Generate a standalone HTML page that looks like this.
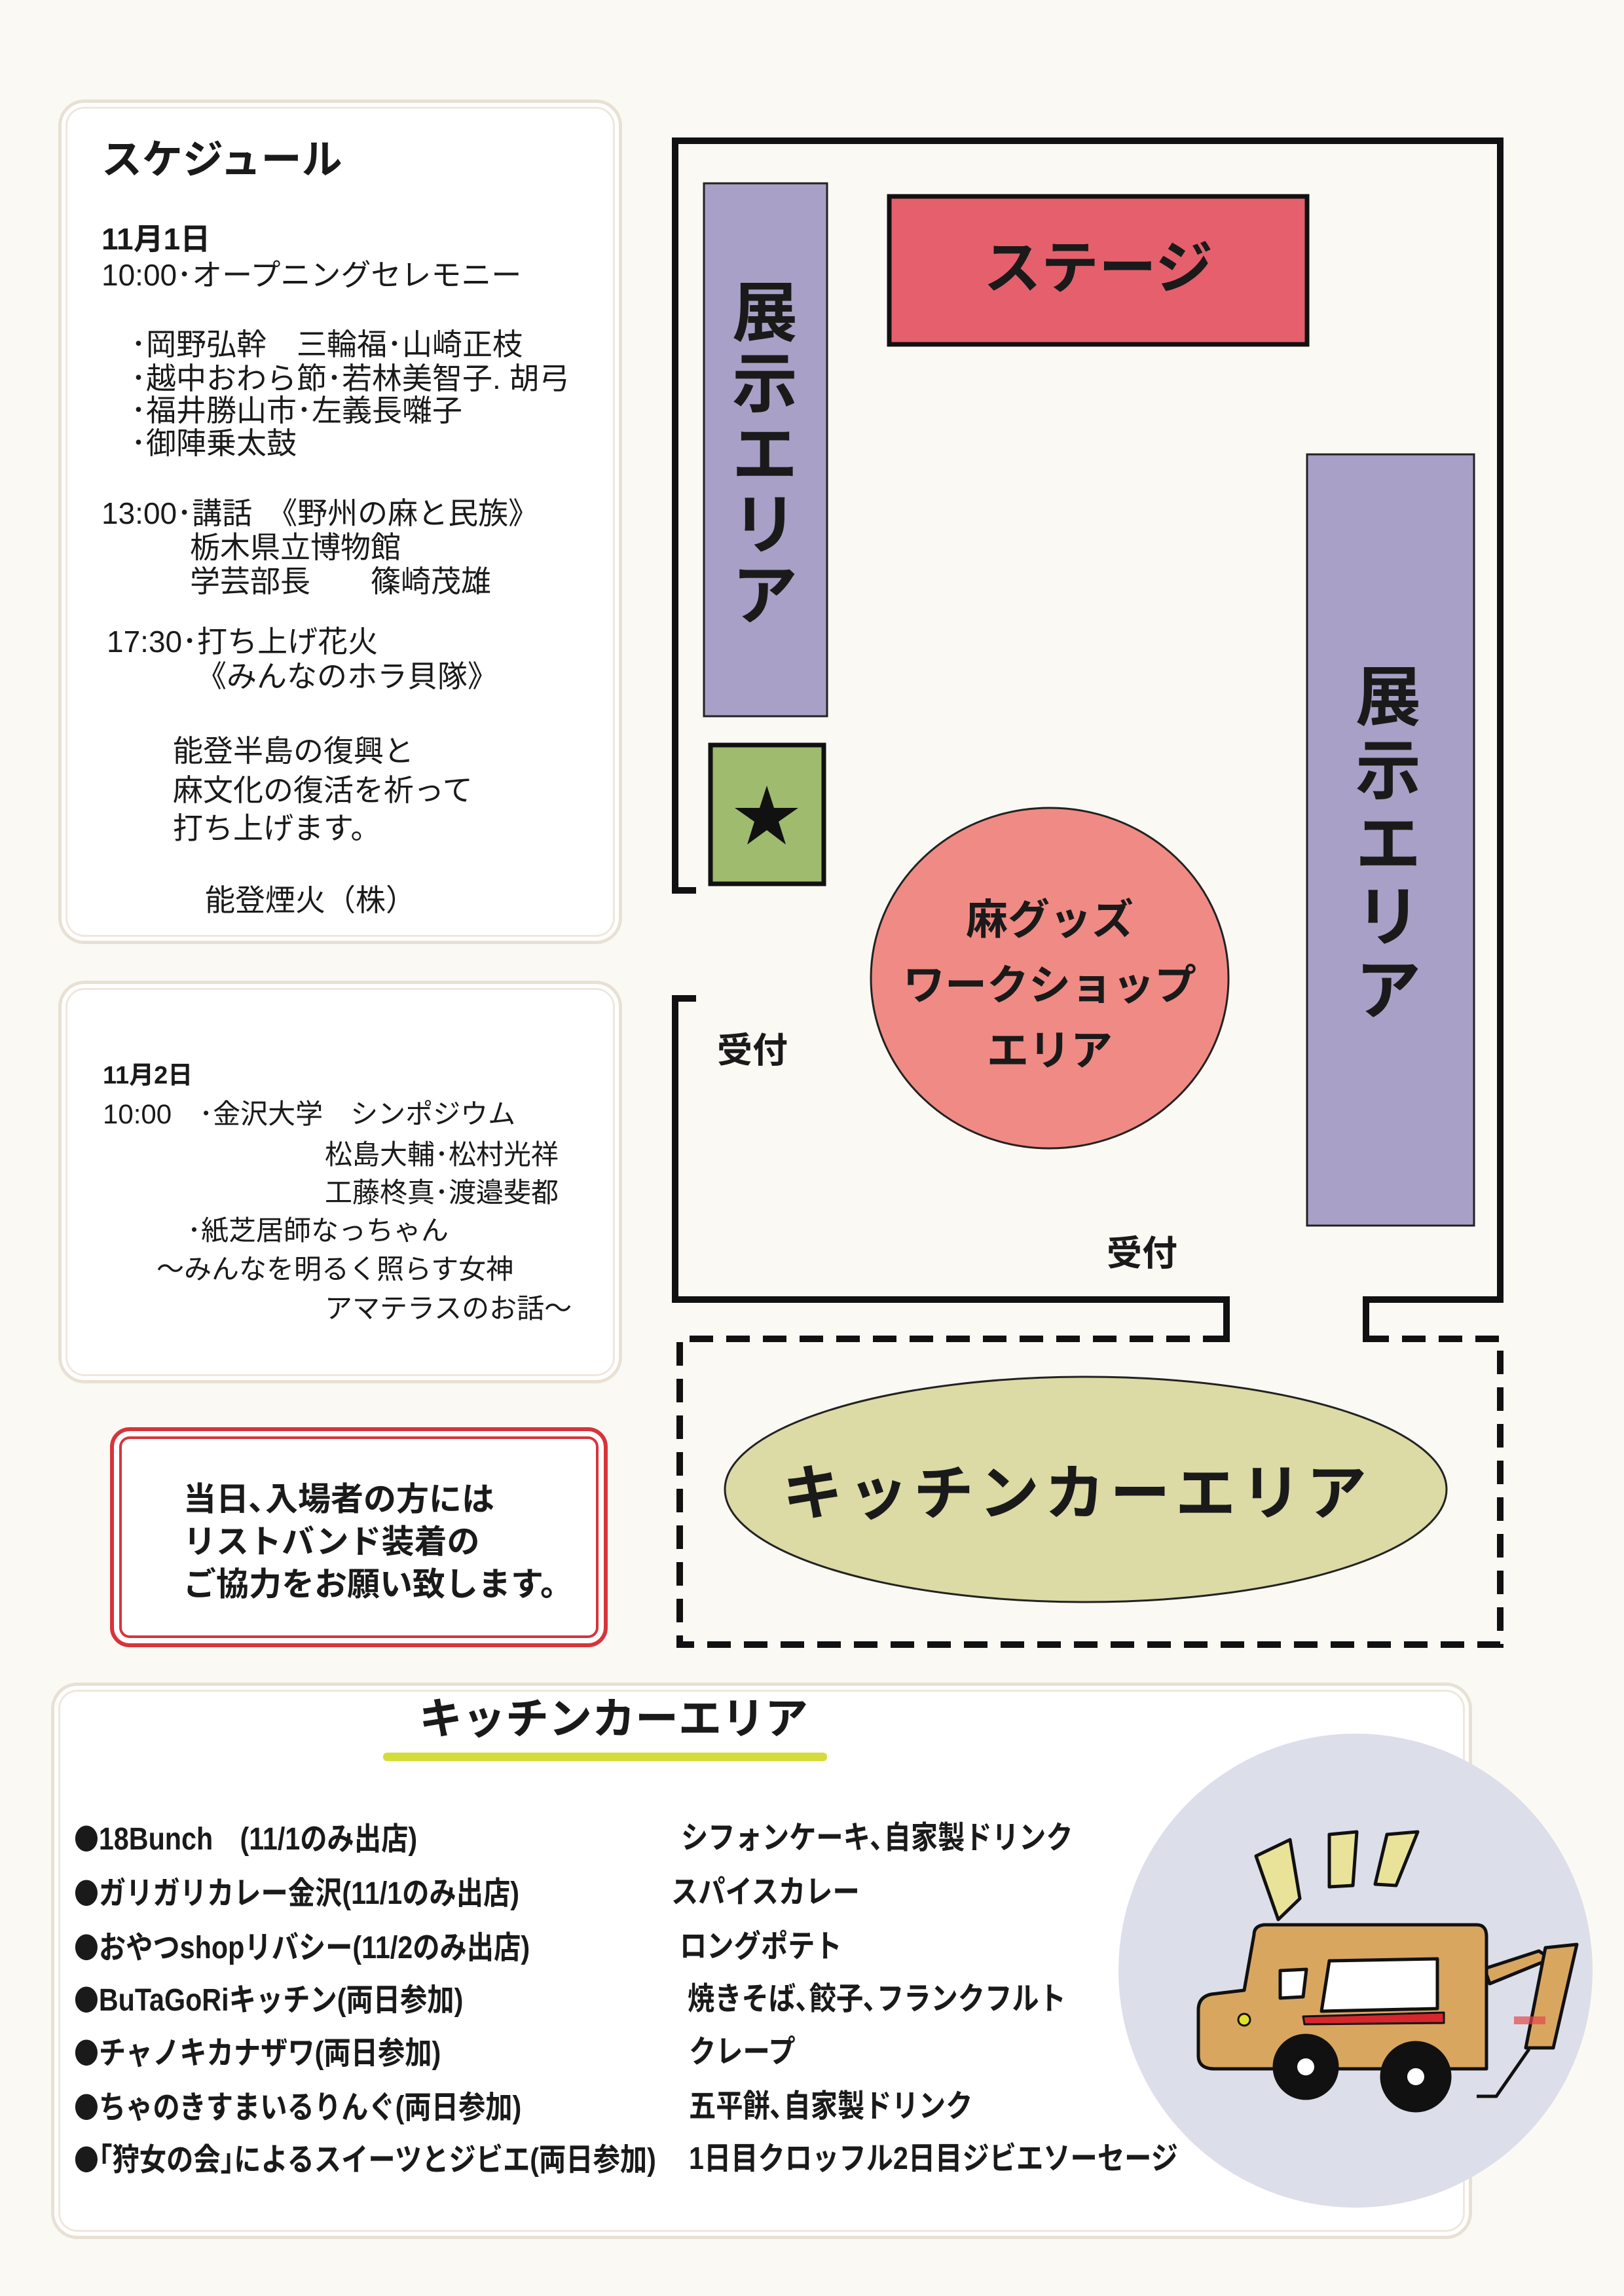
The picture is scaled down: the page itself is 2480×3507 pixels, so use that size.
<!DOCTYPE html>
<html><head><meta charset="utf-8"><style>
*{margin:0;padding:0;box-sizing:border-box}
body{width:2480px;height:3507px;background:#faf9f4;position:relative;overflow:hidden;font-family:"Liberation Sans","Noto Sans CJK JP",sans-serif;color:#1a1a1a}
.a{position:absolute;white-space:nowrap}
.box{position:absolute;background:#fff;border:5px solid #e9e0d4;border-radius:40px;box-shadow:inset 0 0 0 6px #fff,inset 0 0 0 9px #efe7dc}
.t{position:absolute;white-space:nowrap;font-size:46px;line-height:1}
.u{position:absolute;white-space:nowrap;font-size:42px;line-height:1}
.l{position:absolute;white-space:nowrap;font-size:48px;font-weight:bold;line-height:1;transform:scaleX(.86);transform-origin:left center}
.b{font-family:"Noto Sans CJK JP",sans-serif;font-size:44px}
</style></head><body>

<div class="box" style="left:89px;top:152px;width:861px;height:1290px"></div>
<div class="a" style="left:155px;top:214px;font-size:62px;font-weight:bold;line-height:1">スケジュール</div>
<div class="t" style="left:155px;top:342px;font-weight:bold">11月1日</div>
<div class="t" style="left:155px;top:397px">10:00･オープニングセレモニー</div>
<div class="t" style="left:200px;top:503px">･岡野弘幹　三輪福･山崎正枝</div>
<div class="t" style="left:200px;top:555px">･越中おわら節･若林美智子. 胡弓</div>
<div class="t" style="left:200px;top:604px">･福井勝山市･左義長囃子</div>
<div class="t" style="left:200px;top:654px">･御陣乗太鼓</div>
<div class="t" style="left:155px;top:761px">13:00･講話　《野州の麻と民族》</div>
<div class="t" style="left:290px;top:813px">栃木県立博物館</div>
<div class="t" style="left:290px;top:865px">学芸部長　　篠崎茂雄</div>
<div class="t" style="left:163px;top:957px">17:30･打ち上げ花火</div>
<div class="t" style="left:300px;top:1010px">《みんなのホラ貝隊》</div>
<div class="t" style="left:264px;top:1124px">能登半島の復興と</div>
<div class="t" style="left:264px;top:1184px">麻文化の復活を祈って</div>
<div class="t" style="left:264px;top:1242px">打ち上げます。</div>
<div class="t" style="left:313px;top:1352px">能登煙火（株）</div>

<div class="box" style="left:89px;top:1498px;width:861px;height:615px"></div>
<div class="u" style="left:157px;top:1624px;font-size:38px;font-weight:bold">11月2日</div>
<div class="u" style="left:157px;top:1681px">10:00　･金沢大学　シンポジウム</div>
<div class="u" style="left:496px;top:1743px">松島大輔･松村光祥</div>
<div class="u" style="left:496px;top:1801px">工藤柊真･渡邉斐都</div>
<div class="u" style="left:286px;top:1859px">･紙芝居師なっちゃん</div>
<div class="u" style="left:239px;top:1918px">～みんなを明るく照らす女神</div>
<div class="u" style="left:496px;top:1978px">アマテラスのお話～</div>

<div class="a" style="left:168px;top:2180px;width:760px;height:336px;border:6px solid #d8333c;border-radius:30px;background:#fff;box-shadow:inset 0 0 0 8px #fff,inset 0 0 0 12px #d8333c"></div>
<div class="a" style="left:280px;top:2258px;font-size:50px;font-weight:bold;line-height:65px">当日､入場者の方には<br>リストバンド装着の<br>ご協力をお願い致します。</div>

<!-- map -->
<svg class="a" style="left:0;top:0" width="2480" height="2600">
<g fill="none" stroke="#111" stroke-width="10" stroke-linecap="square">
<polyline points="1058,1360 1031,1360 1031,215 2291,215 2291,1985 2086,1985 2086,2045"/>
<polyline points="1058,1525 1031,1525 1031,1985 1873,1985 1873,2045"/>
<polyline points="1873,2045 1038,2045 1038,2512 2291,2512 2291,2045 2086,2045" stroke-dasharray="36,20" stroke-linecap="butt"/>
</g>
<rect x="1075" y="280" width="188" height="814" fill="#a8a0c6" stroke="#222" stroke-width="3"/>
<rect x="1085" y="1138" width="173" height="212" fill="#9fbb6e" stroke="#111" stroke-width="7"/>
<polygon points="1171,1200 1182,1234 1219,1234 1189,1255 1200,1290 1171,1268 1141,1290 1152,1255 1122,1234 1160,1234" fill="#111"/>
<rect x="1358" y="300" width="638" height="226" fill="#e5606c" stroke="#111" stroke-width="7"/>
<rect x="1996" y="694" width="255" height="1178" fill="#a8a0c6" stroke="#222" stroke-width="3"/>
<ellipse cx="1603" cy="1494" rx="273" ry="260" fill="#f08a84" stroke="#222" stroke-width="3"/>
<ellipse cx="1658" cy="2275" rx="551" ry="172" fill="#dcdaa5" stroke="#222" stroke-width="3"/>
</svg>
<div class="a" style="left:1677px;top:410px;transform:translate(-50%,-50%);font-size:88px;font-weight:bold;line-height:1">ステージ</div>
<div class="a" style="left:1118px;top:425px;width:100px;font-size:100px;font-weight:bold;line-height:108px;white-space:normal;text-align:center">展示エリア</div>
<div class="a" style="left:2070px;top:1010px;width:100px;font-size:100px;font-weight:bold;line-height:112px;white-space:normal;text-align:center">展示エリア</div>
<div class="a" style="left:1603px;top:1505px;transform:translate(-50%,-50%);font-size:64px;font-weight:bold;line-height:100px;text-align:center">麻グッズ<br>ワークショップ<br>エリア</div>
<div class="a" style="left:1095px;top:1578px;font-size:54px;font-weight:bold;line-height:1">受付</div>
<div class="a" style="left:1690px;top:1888px;font-size:54px;font-weight:bold;line-height:1">受付</div>
<div class="a" style="left:1645px;top:2282px;transform:translate(-50%,-50%);font-size:92px;font-weight:bold;letter-spacing:8px;line-height:1">キッチンカーエリア</div>

<!-- bottom -->
<div class="box" style="left:78px;top:2570px;width:2170px;height:850px"></div>
<div class="a" style="left:640px;top:2592px;font-size:66px;font-weight:bold;line-height:1">キッチンカーエリア</div>
<div class="a" style="left:585px;top:2677px;width:678px;height:13px;background:#d4dc3c;border-radius:6px"></div>

<div class="l" style="left:113px;top:2784px"><span class="b">●</span>18Bunch　(11/1のみ出店)</div>
<div class="l" style="left:113px;top:2867px"><span class="b">●</span>ガリガリカレー金沢(11/1のみ出店)</div>
<div class="l" style="left:113px;top:2950px"><span class="b">●</span>おやつshopリバシー(11/2のみ出店)</div>
<div class="l" style="left:113px;top:3030px"><span class="b">●</span>BuTaGoRiキッチン(両日参加)</div>
<div class="l" style="left:113px;top:3111px"><span class="b">●</span>チャノキカナザワ(両日参加)</div>
<div class="l" style="left:113px;top:3194px"><span class="b">●</span>ちゃのきすまいるりんぐ(両日参加)</div>
<div class="l" style="left:113px;top:3274px"><span class="b">●</span>｢狩女の会｣によるスイーツとジビエ(両日参加)</div>
<div class="l" style="left:1040px;top:2784px">シフォンケーキ､自家製ドリンク</div>
<div class="l" style="left:1025px;top:2867px">スパイスカレー</div>
<div class="l" style="left:1038px;top:2950px">ロングポテト</div>
<div class="l" style="left:1050px;top:3030px">焼きそば､餃子､フランクフルト</div>
<div class="l" style="left:1052px;top:3111px">クレープ</div>
<div class="l" style="left:1052px;top:3194px">五平餅､自家製ドリンク</div>
<div class="l" style="left:1052px;top:3274px">1日目クロッフル2日目ジビエソーセージ</div>

<svg class="a" style="left:1700px;top:2640px" width="760" height="760">
<circle cx="370" cy="370" r="362" fill="#dcdee9"/>
<g stroke="#111" stroke-width="5" stroke-linejoin="round">
<polygon points="218,195 270,170 285,260 252,292" fill="#e9e39a"/>
<polygon points="330,162 372,158 366,240 330,242" fill="#e9e39a"/>
<polygon points="418,162 465,158 432,240 400,238" fill="#e9e39a"/>
<path d="M567,367 L650,340 L668,352 L575,390 Z" fill="#d9a660"/>
<path d="M660,335 L708,330 L672,488 L630,488 Z" fill="#d9a660"/>
<path d="M635,490 L585,562 L555,562" fill="none"/>
<path d="M215,315 Q215,302 230,300 L555,300 Q570,300 570,318 L570,520 L200,520 L155,520 Q130,520 130,500 L130,430 Q130,410 150,406 L200,400 Z" fill="#d9a660"/>
<path d="M255,370 L295,368 L290,410 L255,412 Z" fill="#fff"/>
<path d="M330,355 L495,352 L495,428 L318,432 Z" fill="#fff"/>
<path d="M290,440 L505,434 L505,450 L292,452 Z" fill="#d8262c" stroke-width="3"/>
<circle cx="200" cy="445" r="9" fill="#e3e02a" stroke-width="3"/>
<circle cx="294" cy="517" r="48" fill="#111"/>
<circle cx="462" cy="532" r="52" fill="#111"/>
</g>
<circle cx="294" cy="517" r="13" fill="#fff"/>
<circle cx="462" cy="532" r="13" fill="#fff"/>
<rect x="612" y="440" width="48" height="12" fill="#e24a4a" opacity=".7"/>
</svg>
</body></html>
